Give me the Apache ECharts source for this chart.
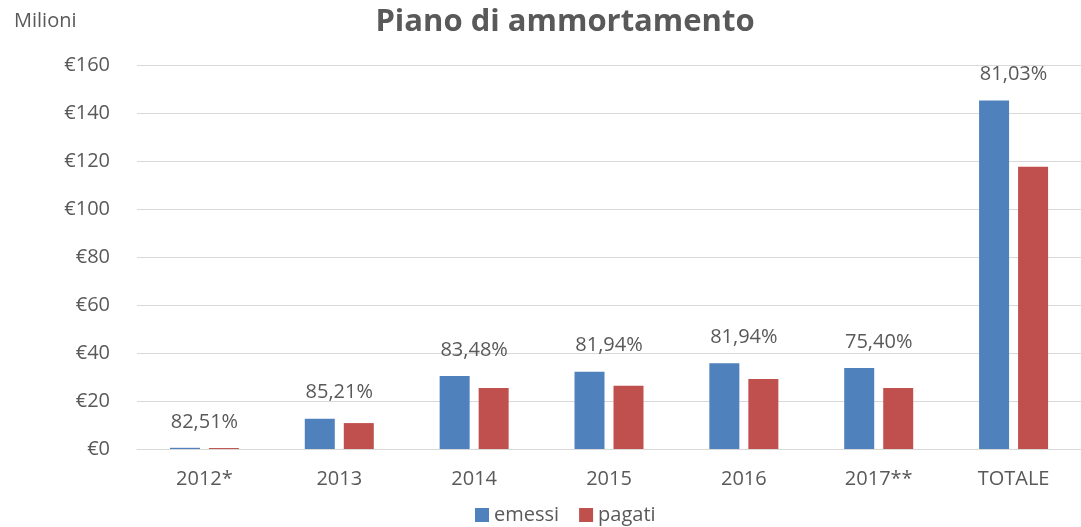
<!DOCTYPE html>
<html>
<head>
<meta charset="utf-8">
<script src="https://cdn.jsdelivr.net/npm/echarts@6/dist/echarts.min.js"></script>
<style>
html, body { margin: 0; padding: 0; background: #fff; }
#main { width: 1081px; height: 527px; }
</style>
</head>
<body>
<div id="main"></div>
<script>
// dati (milioni di euro)
var categorie = ['2012*', '2013', '2014', '2015', '2016', '2017**', 'TOTALE'];
var emessi = [0.5, 12.6, 30.4, 32.2, 35.7, 33.8, 145.2];
var pagati = [0.4, 10.8, 25.4, 26.4, 29.2, 25.4, 117.6];
var percentuali = ['82,51%', '85,21%', '83,48%', '81,94%', '81,94%', '75,40%', '81,03%'];

var font = '"Open Sans", "Liberation Sans", sans-serif';
var testo = '#595959';

var chartDom = document.getElementById('main');
var myChart = echarts.init(chartDom);

var option = {
    animation: false,
    title: [{
        text: 'Piano di ammortamento',
        left: 560,
        top: 2,
        textAlign: 'center',
        textStyle: { fontFamily: font, fontSize: 31, fontWeight: 'bold', color: testo }
    }, {
        text: 'Milioni',
        left: 9,
        top: 6,
        textStyle: { fontFamily: font, fontSize: 20, fontWeight: 'normal', color: testo }
    }],
    legend: {
        bottom: -3,
        left: 470,
        itemWidth: 14,
        itemHeight: 14,
        itemGap: 20,
        icon: 'rect',
        textStyle: { fontFamily: font, fontSize: 20, color: testo },
        data: ['emessi', 'pagati']
    },
    grid: {
        left: 137,
        width: 961,
        top: 65,
        height: 384,
        containLabel: false
    },
    xAxis: {
        type: 'category',
        data: categorie,
        axisTick: { show: false },
        axisLine: { lineStyle: { color: '#d9d9d9', width: 1 } },
        axisLabel: { fontFamily: font, fontSize: 20, color: testo, margin: 20 }
    },
    yAxis: {
        type: 'value',
        min: 0,
        max: 160,
        interval: 20,
        axisLine: { show: false },
        axisTick: { show: false },
        splitLine: { lineStyle: { color: '#d9d9d9', width: 1 } },
        axisLabel: {
            fontFamily: font, fontSize: 20, color: testo, margin: 27,
            formatter: function (v) { return '€' + v; }
        }
    },
    series: [{
        name: 'emessi',
        type: 'bar',
        barWidth: 30,
        barGap: '30%',
        itemStyle: { color: '#4f81bd' },
        label: {
            show: true,
            position: 'top',
            distance: 16,
            offset: [19.5, 0],
            fontFamily: font,
            fontSize: 20,
            color: testo,
            formatter: function (p) { return percentuali[p.dataIndex]; }
        },
        data: emessi
    }, {
        name: 'pagati',
        type: 'bar',
        barWidth: 30,
        itemStyle: { color: '#c0504d' },
        data: pagati
    }]
};

myChart.setOption(option);
</script>
</body>
</html>
